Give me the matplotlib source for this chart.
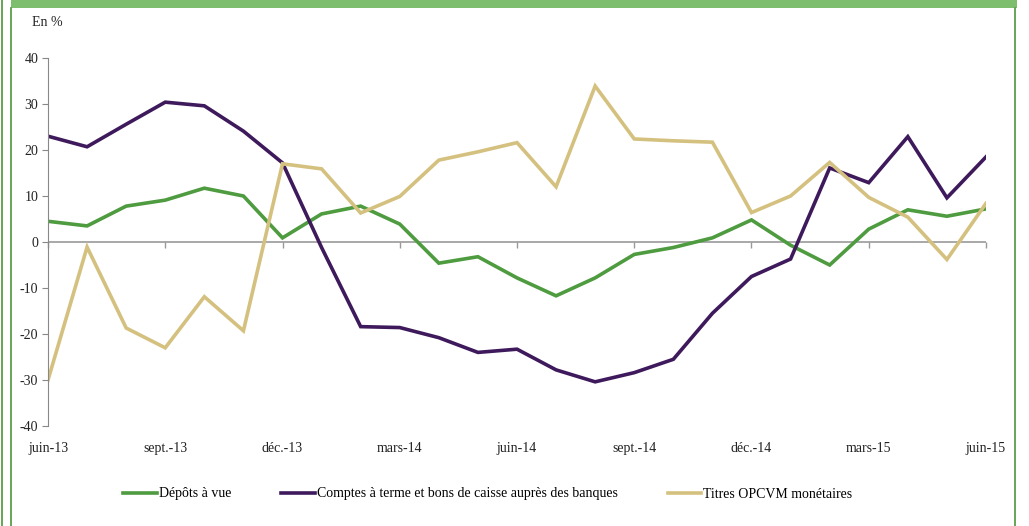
import matplotlib.pyplot as plt
from matplotlib.lines import Line2D
from matplotlib.patches import Rectangle

months = ['juin-13', 'juil.-13', 'août-13', 'sept.-13', 'oct.-13', 'nov.-13', 'déc.-13',
          'janv.-14', 'févr.-14', 'mars-14', 'avr.-14', 'mai-14', 'juin-14', 'juil.-14',
          'août-14', 'sept.-14', 'oct.-14', 'nov.-14', 'déc.-14', 'janv.-15', 'févr.-15',
          'mars-15', 'avr.-15', 'mai-15', 'juin-15']

depots_vue = [4.5, 3.5, 7.8, 9.1, 11.7, 10.0, 0.9, 6.1, 7.8, 3.9, -4.6, -3.2, -7.8,
              -11.7, -7.8, -2.7, -1.2, 0.9, 4.8, -0.7, -5.0, 2.8, 7.0, 5.6, 7.2]
comptes_terme = [23.0, 20.7, 25.6, 30.4, 29.6, 24.1, 17.2, -1.2, -18.4, -18.6, -20.8,
                 -24.0, -23.3, -27.8, -30.4, -28.4, -25.5, -15.5, -7.5, -3.7, 16.1,
                 12.9, 22.9, 9.6, 18.5]
titres_opcvm = [-30.0, -1.1, -18.7, -23.0, -11.9, -19.3, 17.0, 15.9, 6.3, 9.9, 17.8,
                19.6, 21.6, 12.0, 33.9, 22.4, 22.0, 21.7, 6.4, 10.0, 17.3, 9.7, 5.4,
                -3.8, 8.4]

labels = ['Dépôts à vue', 'Comptes à terme et bons de caisse auprès des banques',
          'Titres OPCVM monétaires']
colors = ['#4E9B40', '#3E1A5C', '#D5C17F']

plt.rcParams['font.family'] = ['Liberation Serif', 'DejaVu Serif']
plt.rcParams['axes.unicode_minus'] = False

W, H = 1029, 526
fig = plt.figure(figsize=(W / 100, H / 100), dpi=100)
ax = fig.add_axes([48 / W, 1 - 426 / H, (986 - 48) / W, (426 - 58) / H])

x = list(range(len(months)))
for vals, col, lab in zip([depots_vue, comptes_terme, titres_opcvm], colors, labels):
    ax.plot(x, vals, color=col, lw=2.6, label=lab, solid_joinstyle='miter')

ax.set_xlim(0, len(months) - 1)
ax.set_ylim(-40, 40)
ax.set_yticks(range(-40, 41, 10))
ax.tick_params(axis='y', length=4, color='#888888', labelsize=10, pad=3,
               labelcolor='#222222')

# category axis crosses at zero, labels stay at the bottom
for s in ['top', 'right', 'bottom']:
    ax.spines[s].set_visible(False)
ax.spines['left'].set_color('#888888')
ax.axhline(0, color='#999999', lw=1.2, zorder=0.5)
ax.set_xticks([])
quarters = list(range(0, len(months), 3))
ax.plot(quarters, [0] * len(quarters), ls='none', marker=3, ms=4,
        color='#999999', mew=1, zorder=0.5, clip_on=False)
for q in quarters:
    ax.text(q, -0.043, months[q], transform=ax.get_xaxis_transform(),
            ha='center', va='top', fontsize=10, color='#222222')

fig.text(32 / W, 1 - 23 / H, 'En %', fontsize=10, va='center', color='#222222')

handles, labs = ax.get_legend_handles_labels()
fig.legend(handles, labs, loc='center', bbox_to_anchor=(0.474, 1 - 494 / H), ncol=3,
           frameon=False, fontsize=10, handlelength=2.4, handletextpad=0.15,
           columnspacing=3.6)

# green frame
fig.add_artist(Rectangle((11 / W, 1 - 8 / H), (1017 - 11) / W, 8 / H,
                         transform=fig.transFigure, color='#7DBE6E', lw=0))
for xp in [2, 11, 1015]:
    fig.add_artist(Line2D([xp / W, xp / W], [0, 1 - (0 if xp == 2 else 8) / H],
                          transform=fig.transFigure, color='#5A9E4A', lw=1.3))

fig.savefig('out.png', dpi=100)
